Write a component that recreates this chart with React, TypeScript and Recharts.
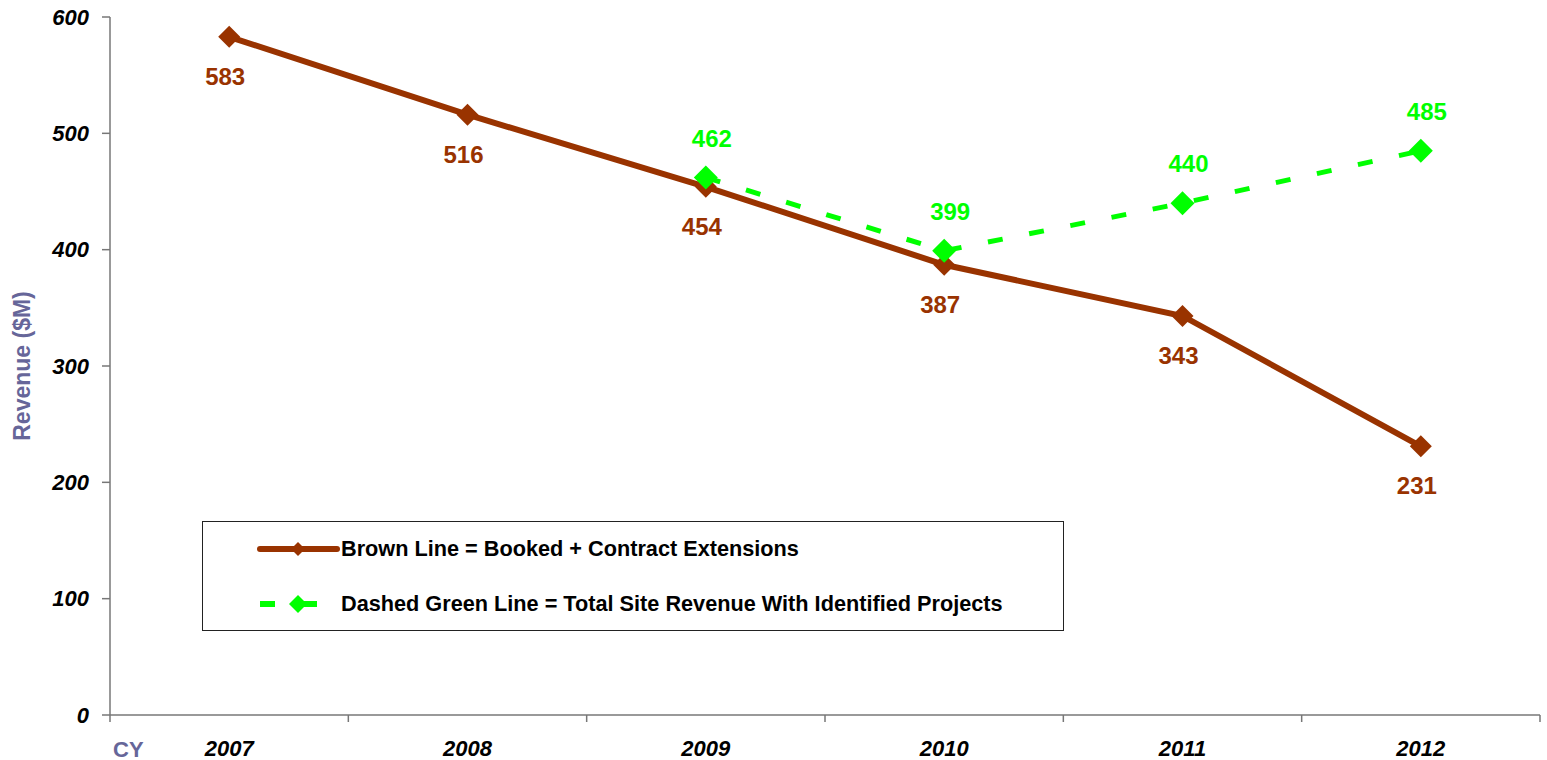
import { Label, LabelList, Legend, Line, LineChart, XAxis, YAxis } from 'recharts'

const years = ['2007', '2008', '2009', '2010', '2011', '2012']
const bookedValues = [583, 516, 454, 387, 343, 231]
const siteTotalValues: (number | null)[] = [null, null, 462, 399, 440, 485]
const yTicks = [0, 100, 200, 300, 400, 500, 600]

const BROWN = '#993300'
const GREEN = '#00ff00'
const SLATE = '#666699'
const FONT = 'Arial, "Liberation Sans", sans-serif'

const chartData = years.map((year, i) => ({
  year,
  booked: bookedValues[i],
  siteTotal: siteTotalValues[i],
}))

const makeDiamond = (color: string, half: number) => (props: any) => {
  const { cx, cy, index } = props
  if (cx == null || cy == null) return <g key={`d-${index}`} />
  return (
    <polygon
      key={`d-${index}`}
      points={`${cx},${cy - half} ${cx + half},${cy} ${cx},${cy + half} ${cx - half},${cy}`}
      fill={color}
    />
  )
}

const makeValueLabel = (color: string, dx: number, dy: number) => (props: any) => {
  const { x, y, value, index } = props
  if (value == null || x == null || y == null) return null
  return (
    <text
      key={`l-${index}`}
      x={x + dx}
      y={y + dy}
      textAnchor="middle"
      fill={color}
      fontSize={24}
      fontWeight={700}
      fontFamily={FONT}
    >
      {value}
    </text>
  )
}

// category labels centred in each band, tick marks on the band edges
const YearTick = (props: any) => {
  const { x, y, payload, index, visibleTicksCount } = props
  const half = payload.offset ?? 0
  const last = index === visibleTicksCount - 1
  return (
    <g>
      <line x1={x - half} x2={x - half} y1={y} y2={y + 7} stroke="#777" strokeWidth={1.5} />
      {last && <line x1={x + half} x2={x + half} y1={y} y2={y + 7} stroke="#777" strokeWidth={1.5} />}
      <text
        x={x}
        y={y + 41}
        textAnchor="middle"
        fontSize={22}
        fontWeight={700}
        fontStyle="italic"
        fontFamily={FONT}
        fill="#000"
      >
        {payload.value}
      </text>
    </g>
  )
}

const RevenueLabel = (props: any) => {
  const vb = props.viewBox || {}
  const cx = (vb.x ?? 0) + 22
  const cy = (vb.y ?? 0) + (vb.height ?? 0) / 2
  return (
    <text
      x={cx}
      y={cy}
      transform={`rotate(-90 ${cx} ${cy})`}
      textAnchor="middle"
      dominantBaseline="central"
      fontSize={23}
      fontWeight={700}
      fontFamily={FONT}
      fill={SLATE}
    >
      Revenue ($M)
    </text>
  )
}

const LegendBox = (props: any) => {
  const { payload = [] } = props
  return (
    <div
      style={{
        width: 862,
        height: 110,
        boxSizing: 'border-box',
        border: '1.5px solid #222',
        background: '#fff',
        position: 'relative',
        fontFamily: FONT,
      }}
    >
      {payload.map((entry: any, i: number) => {
        const dashed = entry.dataKey === 'siteTotal'
        return (
          <div
            key={entry.dataKey}
            style={{
              position: 'absolute',
              left: 54,
              top: i === 0 ? 14 : 69,
              height: 26,
              display: 'flex',
              alignItems: 'center',
            }}
          >
            <svg width={84} height={26}>
              <line
                x1={3}
                x2={dashed ? 84 : 80}
                y1={13}
                y2={13}
                stroke={entry.color}
                strokeWidth={6}
                strokeDasharray={dashed ? '15 27' : undefined}
                strokeLinecap={dashed ? 'butt' : 'round'}
              />
              <polygon
                points={dashed ? '41,4 50,13 41,22 32,13' : '41,6 48,13 41,20 34,13'}
                fill={entry.color}
              />
            </svg>
            <span style={{ fontSize: 21.7, fontWeight: 700, color: '#000', whiteSpace: 'nowrap' }}>
              {entry.value}
            </span>
          </div>
        )
      })}
    </div>
  )
}

export default function App() {
  return (
    <div style={{ position: 'absolute', left: 0, top: 0, background: '#fff' }}>
      <LineChart
        width={1547}
        height={760}
        data={chartData}
        margin={{ top: 17, right: 7, bottom: 0, left: 0 }}
        style={{ fontFamily: FONT }}
      >
        <XAxis
          dataKey="year"
          scale="band"
          height={45}
          tickLine={false}
          tickSize={0}
          tickMargin={0}
          interval={0}
          axisLine={{ stroke: '#777', strokeWidth: 1.5 }}
          tick={<YearTick />}
        >
          <Label
            value="CY"
            position="insideBottomLeft"
            offset={3}
            fill={SLATE}
            fontSize={22}
            fontWeight={700}
            fontFamily={FONT}
          />
        </XAxis>
        <YAxis
          width={110}
          domain={[0, 600]}
          ticks={yTicks}
          interval={0}
          tickSize={8}
          tickMargin={13}
          axisLine={{ stroke: '#777', strokeWidth: 1.5 }}
          tickLine={{ stroke: '#777', strokeWidth: 1.5 }}
          tick={{ fontSize: 22, fontWeight: 700, fontStyle: 'italic', fill: '#000', fontFamily: FONT }}
          label={<RevenueLabel />}
        />
        <Legend
          layout="horizontal"
          verticalAlign="middle"
          align="center"
          wrapperStyle={{ left: 202, top: 521, width: 862, height: 110 }}
          content={<LegendBox />}
        />
        <Line
          type="linear"
          dataKey="booked"
          name="Brown Line = Booked + Contract Extensions"
          stroke={BROWN}
          strokeWidth={6}
          dot={makeDiamond(BROWN, 11)}
          activeDot={false}
          isAnimationActive={false}
        >
          <LabelList dataKey="booked" content={makeValueLabel(BROWN, -4, 48)} />
        </Line>
        <Line
          type="linear"
          dataKey="siteTotal"
          name="Dashed Green Line = Total Site Revenue With Identified Projects"
          stroke={GREEN}
          strokeWidth={5}
          strokeDasharray="15 27"
          dot={makeDiamond(GREEN, 12)}
          activeDot={false}
          isAnimationActive={false}
        >
          <LabelList dataKey="siteTotal" content={makeValueLabel(GREEN, 6, -31)} />
        </Line>
      </LineChart>
    </div>
  )
}
